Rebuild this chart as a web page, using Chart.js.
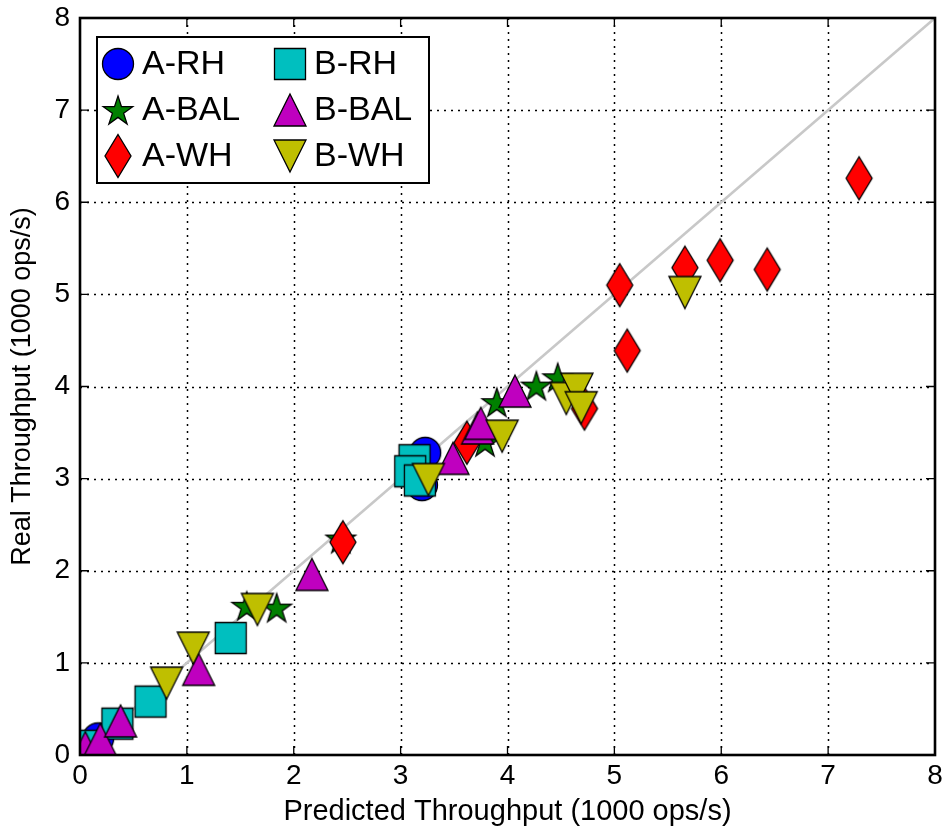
<!DOCTYPE html>
<html>
<head>
<meta charset="utf-8">
<script src="https://cdn.jsdelivr.net/npm/chart.js@4.4.1/dist/chart.umd.min.js"></script>
<style>
  html, body { margin: 0; padding: 0; background: #fff; }
  #wrap { width: 946px; height: 830px; }
</style>
</head>
<body>
<div id="wrap"><canvas id="tput" width="946" height="830"></canvas></div>
<script>
// Predicted vs real throughput, in 1000 ops/s
const seriesNames = ['A-RH', 'A-BAL', 'A-WH', 'B-RH', 'B-BAL', 'B-WH'];

const aRhPred  = [0.17, 3.23, 3.20];
const aRhReal  = [0.18, 3.28, 2.93];

const aBalPred = [1.56, 1.84, 2.44, 3.79, 3.90, 4.27, 4.47];
const aBalReal = [1.62, 1.60, 2.35, 3.40, 3.83, 4.01, 4.10];

const aWhPred  = [2.46, 3.62, 4.72, 5.05, 5.12, 5.66, 5.99, 6.43, 7.29];
const aWhReal  = [2.31, 3.39, 3.76, 5.10, 4.39, 5.29, 5.37, 5.27, 6.26];

const bRhPred  = [0.05, 0.35, 0.66, 1.41, 3.13, 3.09, 3.18];
const bRhReal  = [0.10, 0.34, 0.58, 1.27, 3.20, 3.08, 2.98];

const bBalPred = [0.05, 0.19, 0.38, 1.11, 2.17, 3.49, 3.72, 3.75, 4.07];
const bBalReal = [0.08, 0.17, 0.37, 0.93, 1.96, 3.22, 3.55, 3.60, 3.95];

const bWhPred  = [0.81, 1.06, 1.66, 3.26, 3.95, 4.55, 4.65, 4.69, 5.66];
const bWhReal  = [0.78, 1.16, 1.58, 2.99, 3.46, 3.87, 3.97, 3.77, 5.02];

const axisTicks = [0, 1, 2, 3, 4, 5, 6, 7, 8];
const idealLine = [0, 8];

const FONT = '"Liberation Sans", Arial, Helvetica, sans-serif';

// build a marker bitmap usable as a Chart.js pointStyle
function makeMarker(kind, fill) {
    const c = document.createElement('canvas');
    c.width = 50; c.height = 50;
    const g = c.getContext('2d');
    g.translate(25, 25);
    g.beginPath();
    if (kind === 'circle') {
        g.arc(0, 0, 15.5, 0, Math.PI * 2);
    } else if (kind === 'square') {
        g.rect(-15.5, -15.5, 31, 31);
    } else if (kind === 'star') {
        for (let i = 0; i < 10; i++) {
            const r = i % 2 === 0 ? 15.5 : 15.5 * 0.382;
            const a = -Math.PI / 2 + i * Math.PI / 5;
            const px = r * Math.cos(a), py = r * Math.sin(a) + 1.5;
            if (i === 0) g.moveTo(px, py); else g.lineTo(px, py);
        }
        g.closePath();
    } else if (kind === 'up') {
        g.moveTo(0, -16); g.lineTo(16, 16); g.lineTo(-16, 16); g.closePath();
    } else if (kind === 'down') {
        g.moveTo(0, 16); g.lineTo(16, -16); g.lineTo(-16, -16); g.closePath();
    } else if (kind === 'diamond') {
        g.moveTo(0, -21.5); g.lineTo(13, 0); g.lineTo(0, 21.5); g.lineTo(-13, 0); g.closePath();
    }
    g.fillStyle = fill;
    g.fill();
    g.lineWidth = 1.3;
    g.strokeStyle = '#000';
    g.stroke();
    return c;
}

const markers = [
    makeMarker('circle', '#0000ff'),
    makeMarker('star', '#008000'),
    makeMarker('diamond', '#ff0000'),
    makeMarker('square', '#00bfbf'),
    makeMarker('up', '#bf00bf'),
    makeMarker('down', '#bfbf00')
];

function pts(xs, ys) {
    return xs.map((x, i) => ({ x: x, y: ys[i] }));
}

const seriesData = [
    pts(aRhPred, aRhReal),
    pts(aBalPred, aBalReal),
    pts(aWhPred, aWhReal),
    pts(bRhPred, bRhReal),
    pts(bBalPred, bBalReal),
    pts(bWhPred, bWhReal)
];

const datasets = seriesData.map((d, i) => ({
    label: seriesNames[i],
    data: d,
    pointStyle: markers[i],
    pointRadius: 16,
    pointHoverRadius: 16,
    showLine: false,
    order: 10 - i   // later series end up on top
}));

datasets.push({
    label: 'ideal',
    type: 'line',
    data: pts(idealLine, idealLine),
    borderColor: '#c8c8c8',
    borderWidth: 2.6,
    pointRadius: 0,
    fill: false,
    order: 100
});

// dotted grid, frame and inward tick marks
const framePlugin = {
    id: 'frame',
    beforeDatasetsDraw(chart) {
        const { ctx, chartArea: a, scales: { x, y } } = chart;
        ctx.save();
        ctx.strokeStyle = '#000';
        ctx.lineWidth = 1.5;
        ctx.setLineDash([2, 5]);
        axisTicks.slice(1, -1).forEach(v => {
            const px = Math.round(x.getPixelForValue(v)) + 0.5;
            const py = Math.round(y.getPixelForValue(v)) + 0.5;
            ctx.beginPath(); ctx.moveTo(px, a.bottom); ctx.lineTo(px, a.top); ctx.stroke();
            ctx.beginPath(); ctx.moveTo(a.left, py); ctx.lineTo(a.right, py); ctx.stroke();
        });
        ctx.restore();
    },
    afterDatasetsDraw(chart) {
        const { ctx, chartArea: a, scales: { x, y } } = chart;
        ctx.save();
        ctx.strokeStyle = '#000';
        ctx.lineWidth = 1.3;
        const tl = 9;
        axisTicks.forEach(v => {
            const px = x.getPixelForValue(v);
            const py = y.getPixelForValue(v);
            ctx.beginPath();
            ctx.moveTo(px, a.bottom); ctx.lineTo(px, a.bottom - tl);
            ctx.moveTo(px, a.top); ctx.lineTo(px, a.top + tl);
            ctx.moveTo(a.left, py); ctx.lineTo(a.left + tl, py);
            ctx.moveTo(a.right, py); ctx.lineTo(a.right - tl, py);
            ctx.stroke();
        });
        ctx.lineWidth = 2.6;
        ctx.strokeRect(a.left, a.top, a.right - a.left, a.bottom - a.top);

        // legend box, two columns
        const box = { x: 97, y: 37, w: 332, h: 146 };
        ctx.fillStyle = '#fff';
        ctx.fillRect(box.x, box.y, box.w, box.h);
        ctx.lineWidth = 2;
        ctx.strokeRect(box.x, box.y, box.w, box.h);
        ctx.font = '34px ' + FONT;
        ctx.fillStyle = '#000';
        ctx.textBaseline = 'middle';
        ctx.textAlign = 'left';
        const colX = [118, 290];
        const rowY = [64, 110, 156];
        seriesNames.forEach((name, i) => {
            const col = Math.floor(i / 3), row = i % 3;
            const m = markers[i];
            ctx.drawImage(m, colX[col] - m.width / 2, rowY[row] - m.height / 2);
            ctx.fillText(name, colX[col] + 24, rowY[row] + 1);
        });
        ctx.restore();
    }
};

const tickFont = { family: FONT, size: 28 };

// keep the plot box fixed: no extra room for the end tick labels
function noOverhang(s) {
    s.paddingLeft = 0; s.paddingRight = 0;
    s.paddingTop = 0; s.paddingBottom = 0;
}

new Chart(document.getElementById('tput').getContext('2d'), {
    type: 'scatter',
    data: { datasets: datasets },
    options: {
        responsive: false,
        animation: false,
        layout: { autoPadding: false, padding: { top: 18, right: 11, left: 0, bottom: 0 } },
        plugins: {
            legend: { display: false },
            tooltip: { enabled: false }
        },
        scales: {
            x: {
                type: 'linear',
                min: 0, max: 8,
                afterBuildTicks: s => { s.ticks = axisTicks.map(v => ({ value: v })); },
                afterFit: s => { s.height = 75; noOverhang(s); },
                grid: { display: false, drawTicks: false },
                border: { display: false },
                ticks: { color: '#000', font: tickFont, padding: 4, maxRotation: 0, minRotation: 0 },
                title: {
                    display: true,
                    text: 'Predicted Throughput (1000 ops/s)',
                    color: '#000',
                    font: { family: FONT, size: 29 },
                    padding: { top: 0, bottom: 1 }
                }
            },
            y: {
                type: 'linear',
                min: 0, max: 8,
                afterBuildTicks: s => { s.ticks = axisTicks.map(v => ({ value: v })); },
                afterFit: s => { s.width = 80; noOverhang(s); },
                grid: { display: false, drawTicks: false },
                border: { display: false },
                ticks: { color: '#000', font: tickFont, padding: 10 },
                title: {
                    display: true,
                    text: 'Real Throughput (1000 ops/s)',
                    color: '#000',
                    font: { family: FONT, size: 27 },
                    padding: { top: 6, bottom: 0 }
                }
            }
        }
    },
    plugins: [framePlugin]
});
</script>
</body>
</html>
